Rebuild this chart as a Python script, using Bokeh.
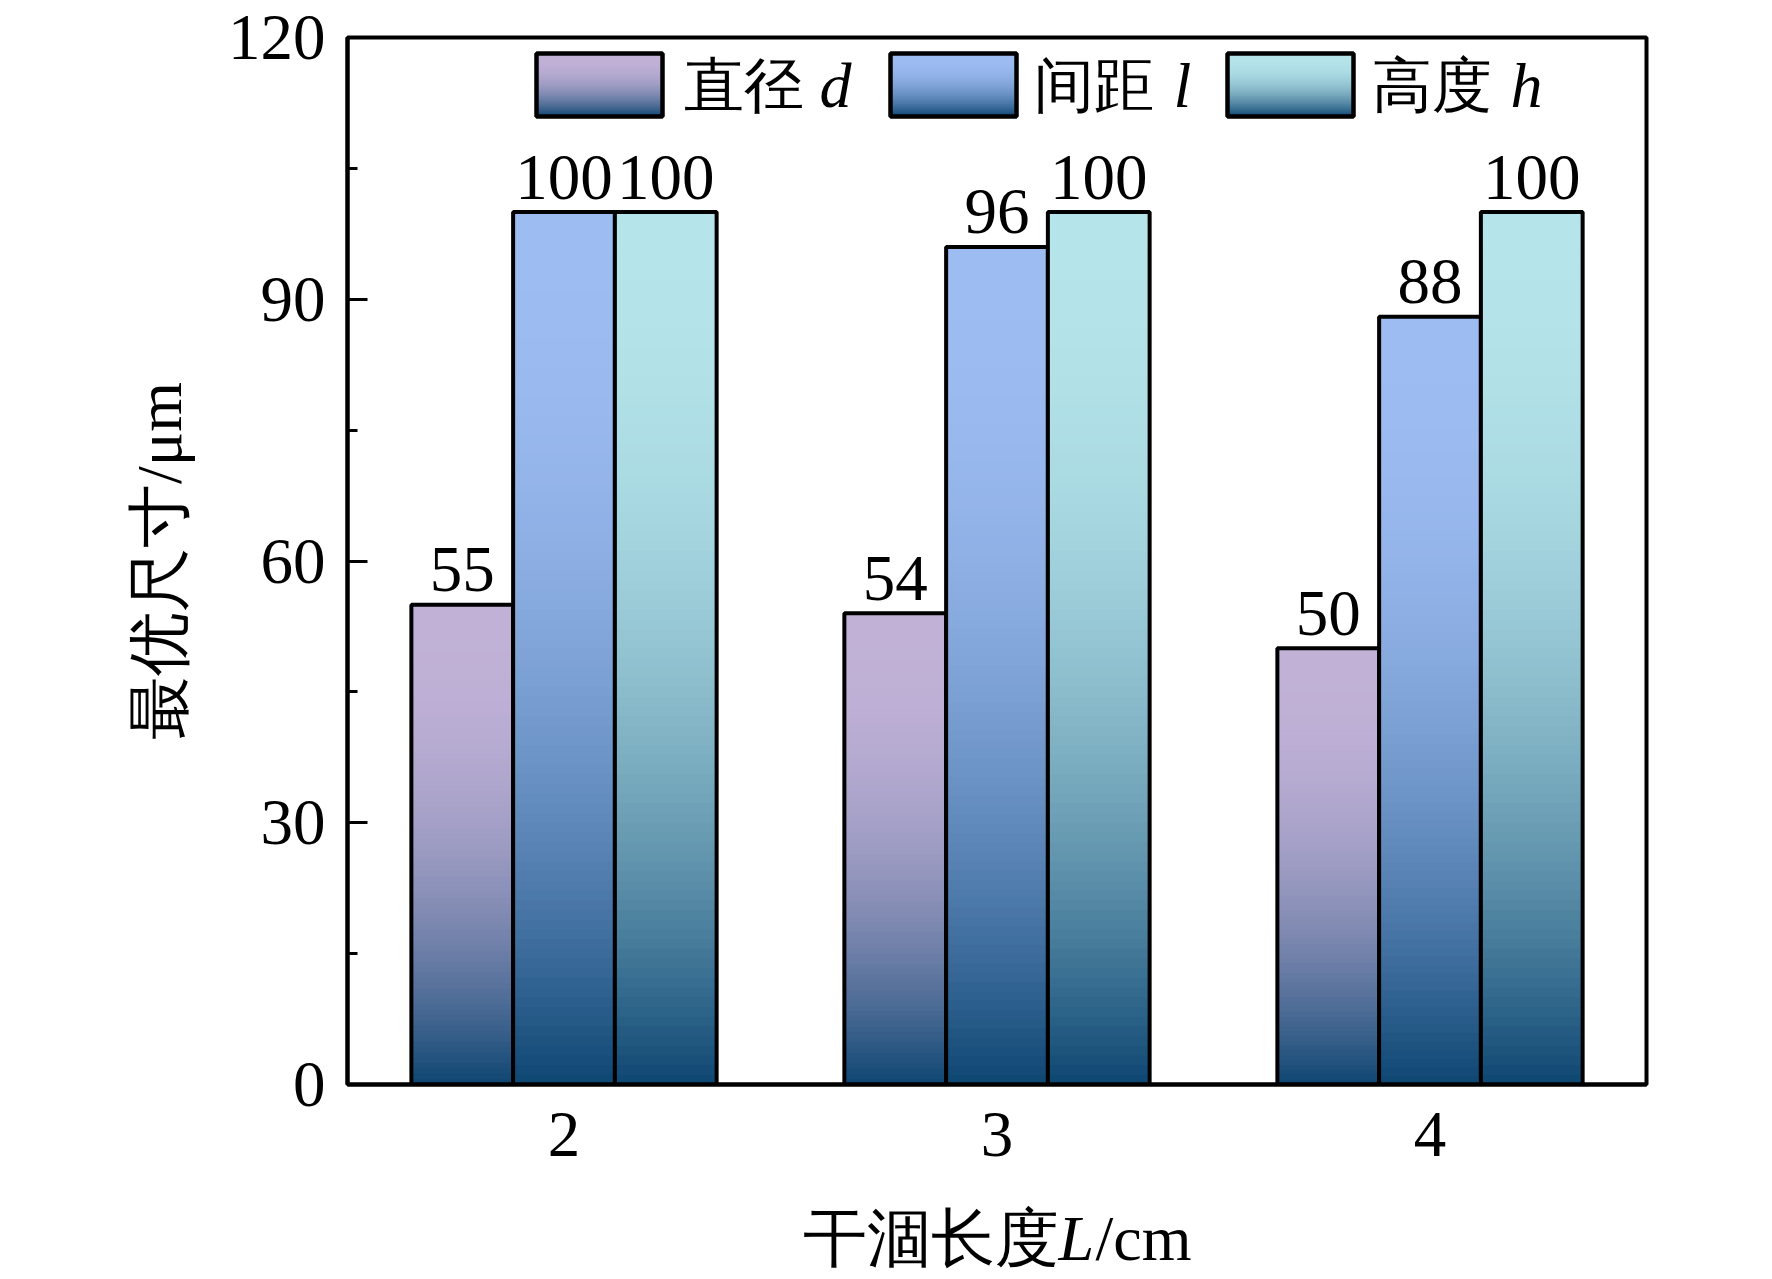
import numpy as np
from bokeh.plotting import figure
from bokeh.models import ColumnDataSource, FixedTicker, Label, Range1d
from bokeh.core.properties import value
from bokeh.embed import file_html
from bokeh.resources import INLINE

# ---------------- data ----------------
categories = [2, 3, 4]
series_names = ["直径", "间距", "高度"]
series_symbols = ["d", "l", "h"]
diameter_d = [55, 54, 50]
spacing_l = [100, 96, 88]
height_h = [100, 100, 100]
series_values = [diameter_d, spacing_l, height_h]
y_ticks = [0, 30, 60, 90, 120]
y_minor_ticks = [15, 45, 75, 105]
x_title_parts = ["干涸长度", "L", "/cm"]
y_title = "最优尺寸/μm"

# ---------------- style ----------------
light_colors = [(193, 177, 215), (157, 188, 242), (181, 228, 234)]
dark_color = (14, 70, 114)
FONT = "Liberation Serif"
FS = "65px"

BAR_W = 0.235
OFFSETS = [-BAR_W, 0.0, BAR_W]
X0, X1 = 1.5, 4.5
Y0, Y1 = 0, 120

FRAME_W, FRAME_H = 1299, 1047
B_L, B_R, B_T, B_B = 347, 110, 37, 179
PAGE_OFF = 1  # effective offset between page pixels and canvas pixels


def mix(c0, c1, f):
    return "#%02x%02x%02x" % tuple(int(round(a + (b - a) * f)) for a, b in zip(c0, c1))


def grad_slices(lefts, rights, bottoms, tops, light, n=90):
    L, R, B, T, C = [], [], [], [], []
    for k in range(n):
        frac = (n - k) / n
        t = (n - k - 0.5) / n
        f = 1 - (1 - t) ** 2.3
        col = mix(dark_color, light, f)
        for l, r, b, tp in zip(lefts, rights, bottoms, tops):
            L.append(l); R.append(r); B.append(b); T.append(b + (tp - b) * frac); C.append(col)
    return dict(left=L, right=R, bottom=B, top=T, color=C)


# page-pixel -> data helpers (for legend placement)
def dx(px):
    return X0 + (px - (PAGE_OFF + B_L)) / FRAME_W * (X1 - X0)


def dy(py):
    return Y1 - (py - (PAGE_OFF + B_T)) / FRAME_H * (Y1 - Y0)


p = figure(frame_width=FRAME_W, frame_height=FRAME_H,
           min_border_left=B_L, min_border_right=B_R, min_border_top=B_T, min_border_bottom=B_B,
           x_range=Range1d(X0, X1), y_range=Range1d(Y0, Y1),
           output_backend="svg", toolbar_location=None,
           background_fill_color="white", border_fill_color="white")
p.grid.visible = False
p.outline_line_color = "black"
p.outline_line_width = 4
p.outline_line_alpha = 1.0

# bars
for i, vals in enumerate(series_values):
    xs = [c + OFFSETS[i] for c in categories]
    lefts = [x - BAR_W / 2 for x in xs]
    rights = [x + BAR_W / 2 for x in xs]
    src = ColumnDataSource(grad_slices(lefts, rights, [0] * len(vals), vals, light_colors[i]))
    p.quad(left="left", right="right", bottom="bottom", top="top", source=src,
           fill_color="color", line_color=None)
    p.quad(left=lefts, right=rights, bottom=[0] * len(vals), top=vals,
           fill_alpha=0, line_color="black", line_width=4)
    p.text(x=xs, y=vals, text=[str(v) for v in vals], text_align="center",
           text_baseline="alphabetic", y_offset=-35,
           text_font=value(FONT), text_font_size=FS, text_color="black")

# legend (manual, to allow italic symbols)
leg_sw_left = [537, 891, 1228]
leg_txt_left = [684, 1034, 1372]
leg_sym_left = [820, 1174, 1511]
sw_w = 126
sw_top, sw_bot = 54, 117
for i in range(3):
    l, r = dx(leg_sw_left[i]), dx(leg_sw_left[i] + sw_w)
    src = ColumnDataSource(grad_slices([l], [r], [dy(sw_bot)], [dy(sw_top)], light_colors[i], n=40))
    p.quad(left="left", right="right", bottom="bottom", top="top", source=src,
           fill_color="color", line_color=None)
    p.quad(left=[l], right=[r], bottom=[dy(sw_bot)], top=[dy(sw_top)],
           fill_alpha=0, line_color="black", line_width=4.5)
    p.add_layout(Label(x=dx(leg_txt_left[i]), y=dy(86), text=series_names[i],
                       text_font=FONT, text_font_size="60px", text_align="left",
                       text_baseline="middle", text_color="black"))
    p.add_layout(Label(x=dx(leg_sym_left[i]), y=dy(86), text=series_symbols[i],
                       text_font=FONT, text_font_size="64px", text_font_style="italic",
                       text_align="left", text_baseline="middle", text_color="black"))

# x-axis title (manual, italic L) placed in the bottom panel, canvas units
XT_Y = 1238
for txt, xpos, align, style in [(x_title_parts[0], 1058, "right", "normal"),
                                (x_title_parts[1], 1058, "left", "italic"),
                                (x_title_parts[2], 1095, "left", "normal")]:
    p.add_layout(Label(x=xpos, y=XT_Y, x_units="canvas", y_units="canvas", text=txt,
                       text_font=FONT, text_font_size="64px", text_font_style=style,
                       text_align=align, text_baseline="middle", text_color="black"),
                 "below")

# axes
xa = p.xaxis[0]
xa.ticker = FixedTicker(ticks=categories)
xa.major_tick_in = 0
xa.major_tick_out = 0
xa.minor_tick_in = 0
xa.minor_tick_out = 0
xa.axis_line_width = 4
xa.major_label_text_font = FONT
xa.major_label_text_font_size = FS
xa.major_label_standoff = 28
xa.major_label_text_color = "black"

ya = p.yaxis[0]
ya.ticker = FixedTicker(ticks=y_ticks, minor_ticks=y_minor_ticks)
ya.major_tick_in = 20
ya.major_tick_out = 0
ya.minor_tick_in = 10
ya.minor_tick_out = 0
ya.major_tick_line_width = 3
ya.minor_tick_line_width = 3
ya.axis_line_width = 4
ya.major_label_text_font = FONT
ya.major_label_text_font_size = FS
ya.major_label_standoff = 22
ya.major_label_text_color = "black"
ya.axis_label = y_title
ya.axis_label_text_font = FONT
ya.axis_label_text_font_size = "64px"
ya.axis_label_text_font_style = "normal"
ya.axis_label_standoff = 30
ya.axis_label_text_color = "black"

open("out.html", "w").write(file_html(p, INLINE))
